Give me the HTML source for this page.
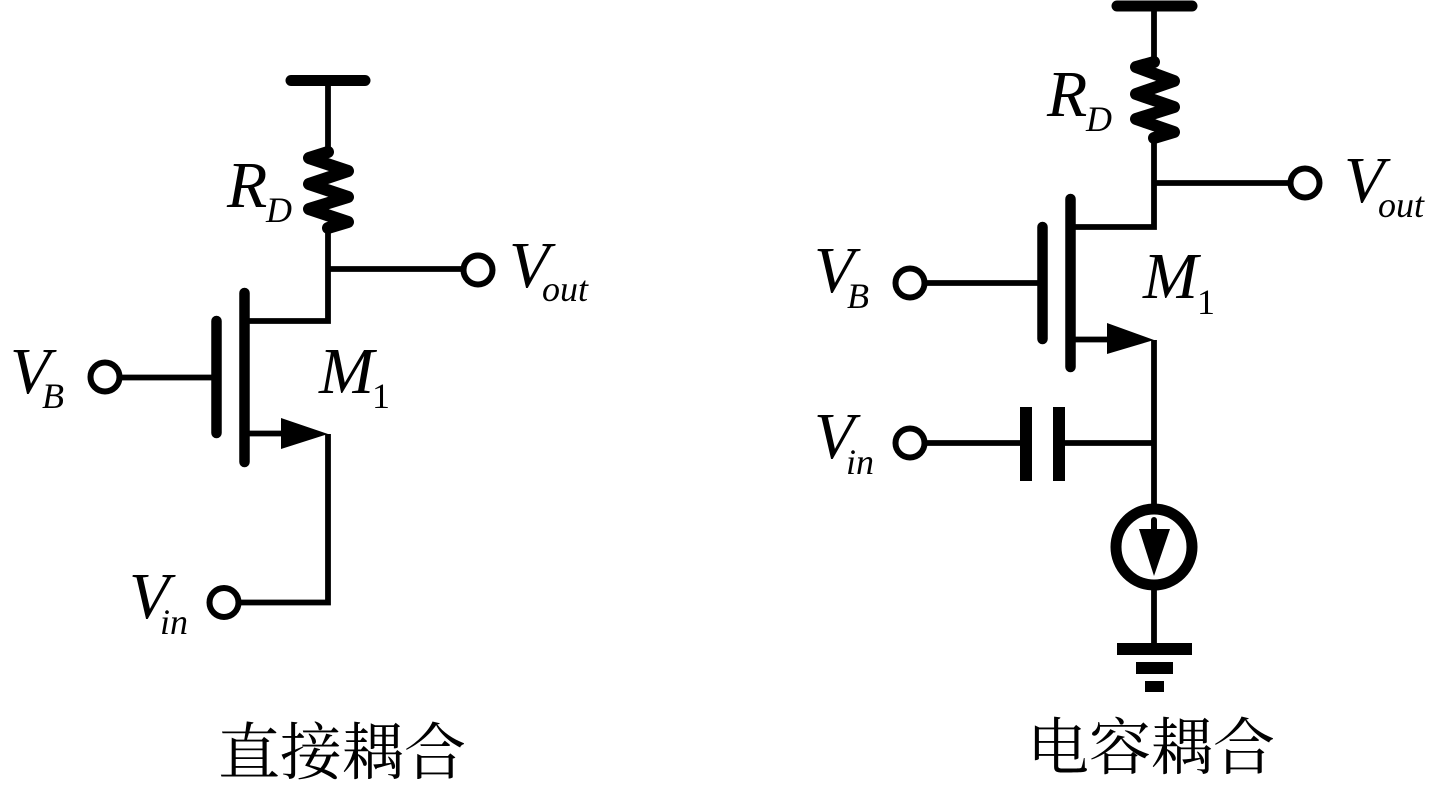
<!DOCTYPE html>
<html>
<head>
<meta charset="utf-8">
<style>
html,body{margin:0;padding:0;background:#fff;width:1440px;height:797px;overflow:hidden}
svg{display:block}
text{font-family:"Liberation Serif",serif;fill:#000}
.m{font-style:italic;font-size:66px}
.s{font-style:italic;font-size:36px}
.n{font-size:36px}
.c{font-family:"Noto Serif CJK SC","Liberation Serif",serif;font-size:62px}
</style>
</head>
<body>
<svg width="1440" height="797" viewBox="0 0 1440 797" xmlns="http://www.w3.org/2000/svg">
<rect width="1440" height="797" fill="#fff"/>
<g fill="none" stroke="#000" stroke-linecap="round" stroke-linejoin="round">
  <!-- left circuit -->
  <path d="M291 80.500H365" stroke-width="11"/>
  <path d="M328 80V150M328 228V321H248M328 269H462M248 433.500H285M328 434V602.500H240M120 377.500H216" stroke-width="5.800" stroke-linecap="butt" stroke-linejoin="miter"/>
  <path d="M328 152L309 158L348 171L309 184L348 197L309 209L348 222L328 228" stroke-width="12"/>
  <path d="M244.500 293V462M216.500 321V433" stroke-width="10.500"/>
  <circle cx="478" cy="270" r="14.500" stroke-width="6" fill="#fff"/>
  <circle cx="105" cy="377" r="14.500" stroke-width="6" fill="#fff"/>
  <circle cx="224" cy="602.500" r="14.500" stroke-width="6" fill="#fff"/>
  <!-- right circuit -->
  <path d="M1117 6H1192" stroke-width="11"/>
  <path d="M1154 6V60M1154 138V227H1074M1154 183H1290M1074 339.500H1110M1154 340V510M925 283H1040M925 443H1021M1064 443H1154M1154 590V645" stroke-width="5.800" stroke-linecap="butt" stroke-linejoin="miter"/>
  <path d="M1154 62L1136 67L1174 81L1136 94L1174 107L1136 119L1174 132L1154 138" stroke-width="12"/>
  <path d="M1070.500 199V367M1042.500 227V339" stroke-width="10.500"/>
  <circle cx="1305" cy="183" r="14.500" stroke-width="6" fill="#fff"/>
  <circle cx="910" cy="283" r="14.500" stroke-width="6" fill="#fff"/>
  <circle cx="910" cy="443" r="14.500" stroke-width="6" fill="#fff"/>
  <circle cx="1154" cy="547" r="38" stroke-width="11" fill="#fff"/>
  <path d="M1154 520V535" stroke-width="6"/>
</g>
<g fill="#000">
  <polygon points="281,418 281,449 328,434"/>
  <polygon points="1107,323 1107,354 1154,340"/>
  <polygon points="1139,529 1170,529 1154,576"/>
  <rect x="1020" y="407" width="12" height="74"/>
  <rect x="1053" y="407" width="12" height="74"/>
  <rect x="1117" y="643" width="75" height="12"/>
  <rect x="1136" y="662" width="37" height="12"/>
  <rect x="1145" y="681" width="19" height="11"/>
</g>
<!-- left labels -->
<text class="m" x="227" y="207">R</text>
<text class="s" x="266" y="222">D</text>
<text class="m" x="509" y="287">V</text>
<text class="s" x="542" y="301">out</text>
<text class="m" x="10" y="393">V</text>
<text class="s" x="42" y="408">B</text>
<text class="m" x="319" y="393">M</text>
<text class="n" x="372" y="408">1</text>
<text class="m" x="129" y="618">V</text>
<text class="s" x="160" y="634">in</text>
<text class="c" x="218" y="774">直接耦合</text>
<!-- right labels -->
<text class="m" x="1047" y="116">R</text>
<text class="s" x="1086" y="131">D</text>
<text class="m" x="1344" y="202">V</text>
<text class="s" x="1378" y="217">out</text>
<text class="m" x="814" y="292">V</text>
<text class="s" x="847" y="308">B</text>
<text class="m" x="1143" y="298">M</text>
<text class="n" x="1197" y="314">1</text>
<text class="m" x="814" y="458">V</text>
<text class="s" x="846" y="474">in</text>
<text class="c" x="1027" y="769">电容耦合</text>
</svg>
</body>
</html>
